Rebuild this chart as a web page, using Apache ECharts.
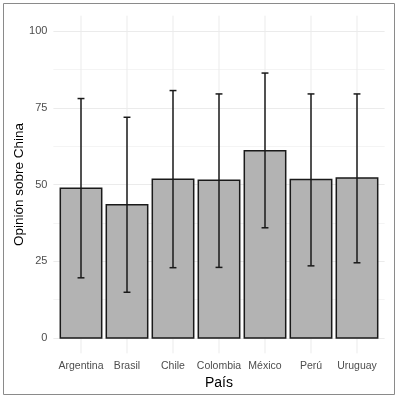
<!DOCTYPE html>
<html>
<head>
    <meta charset="utf-8" />
    <title>Opinión sobre China por país</title>
    <script src="https://cdn.jsdelivr.net/npm/echarts@6/dist/echarts.min.js"></script>
    <style>
        html, body { margin: 0; padding: 0; background: #ffffff; }
    </style>
</head>
<body>
<div id="main" style="width: 398px;height:398px;"></div>

<script type="text/javascript">
    // datos
    var paises = ['Argentina', 'Brasil', 'Chile', 'Colombia', 'México', 'Perú', 'Uruguay'];
    var media = [48.8, 43.4, 51.7, 51.4, 61.0, 51.6, 52.1];
    var limInf = [19.6, 14.9, 22.9, 23.0, 35.9, 23.5, 24.5];
    var limSup = [78.0, 71.9, 80.6, 79.5, 86.3, 79.5, 79.5];
    var yTicks = [0, 25, 50, 75, 100];

    var fuente = '"Liberation Sans", Arial, sans-serif';
    var myChart = echarts.init(document.getElementById('main'), null, {renderer: 'canvas'});

    var barras = media.map(function (v, i) { return [i, v]; });
    var errores = media.map(function (v, i) { return [i, limInf[i], limSup[i]]; });
    var posiciones = paises.map(function (p, i) { return i; });

    var option = {
        backgroundColor: '#ffffff',
        animation: false,
        graphic: [{
            type: 'rect',
            shape: {x: 3.5, y: 3.5, width: 391, height: 391},
            style: {fill: 'none', stroke: '#8a8a8a', lineWidth: 1},
            silent: true
        }],
        grid: {left: 53.4, right: 13.4, top: 31, bottom: 60, containLabel: false, outerBoundsMode: 'none'},
        xAxis: {
            type: 'value',
            min: -0.6,
            max: 6.6,
            axisLine: {show: false},
            axisTick: {show: false},
            splitLine: {show: false},
            name: 'País',
            nameLocation: 'middle',
            nameGap: 38,
            nameMoveOverlap: false,
            nameTextStyle: {fontFamily: fuente, fontSize: 14, color: '#000000'},
            axisLabel: {
                margin: 23,
                fontFamily: fuente,
                fontSize: 10.5,
                color: '#4d4d4d',
                customValues: posiciones,
                formatter: function (v) {
                    return paises[Math.round(v)] || '';
                }
            }
        },
        yAxis: {
            type: 'value',
            min: 0,
            max: 100,
            interval: 12.5,
            axisLine: {show: false},
            axisTick: {show: false},
            splitLine: {show: true, lineStyle: {color: ['#ebebeb', '#f4f4f4'], width: 1}},
            name: 'Opinión sobre China',
            nameLocation: 'middle',
            nameGap: 27,
            nameMoveOverlap: false,
            nameRotate: 90,
            nameTextStyle: {fontFamily: fuente, fontSize: 13.5, color: '#000000'},
            axisLabel: {
                margin: 6,
                fontFamily: fuente,
                fontSize: 11,
                color: '#4d4d4d',
                formatter: function (v) {
                    return yTicks.indexOf(v) >= 0 ? String(v) : '';
                }
            }
        },
        series: [
            {
                // líneas verticales de la cuadrícula, con la expansión del panel
                type: 'custom',
                silent: true,
                clip: false,
                z: 1,
                data: posiciones.map(function (i) { return [i]; }),
                renderItem: function (params, api) {
                    var a = api.coord([api.value(0), -5]);
                    var b = api.coord([api.value(0), 105]);
                    return {
                        type: 'line',
                        shape: {x1: a[0], y1: a[1], x2: b[0], y2: b[1]},
                        style: {stroke: '#ebebeb', lineWidth: 1}
                    };
                }
            },
            {
                type: 'custom',
                z: 2,
                data: barras,
                renderItem: function (params, api) {
                    var i = api.value(0);
                    var p1 = api.coord([i - 0.45, api.value(1)]);
                    var p2 = api.coord([i + 0.45, 0]);
                    return {
                        type: 'rect',
                        shape: {x: p1[0], y: p1[1], width: p2[0] - p1[0], height: p2[1] - p1[1]},
                        style: {fill: '#b3b3b3', stroke: '#1a1a1a', lineWidth: 1.5}
                    };
                }
            },
            {
                type: 'custom',
                z: 3,
                data: errores,
                renderItem: function (params, api) {
                    var i = api.value(0);
                    var lo = api.coord([i, api.value(1)]);
                    var hi = api.coord([i, api.value(2)]);
                    var w = api.size([0.075, 0])[0];
                    var estilo = {stroke: '#1a1a1a', lineWidth: 1.5};
                    return {
                        type: 'group',
                        children: [
                            {type: 'line', shape: {x1: lo[0], y1: lo[1], x2: hi[0], y2: hi[1]}, style: estilo},
                            {type: 'line', shape: {x1: lo[0] - w, y1: lo[1], x2: lo[0] + w, y2: lo[1]}, style: estilo},
                            {type: 'line', shape: {x1: hi[0] - w, y1: hi[1], x2: hi[0] + w, y2: hi[1]}, style: estilo}
                        ]
                    };
                }
            }
        ]
    };
    myChart.setOption(option);
</script>
</body>
</html>
